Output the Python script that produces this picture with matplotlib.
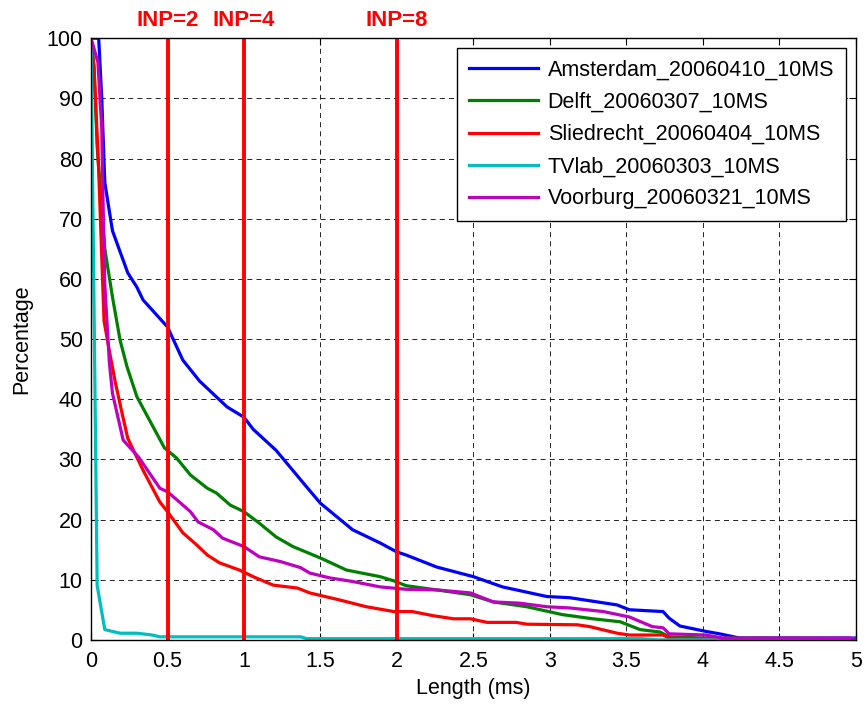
import matplotlib.pyplot as plt
import numpy as np

plt.rcParams['font.family'] = ['Liberation Sans', 'DejaVu Sans']

# curve data (x in ms, y in %)
ams_x = [0, 0.05, 0.07, 0.09, 0.14, 0.24, 0.3, 0.34, 0.5, 0.6, 0.71, 0.89, 1.0, 1.06, 1.21,
         1.41, 1.5, 1.71, 1.89, 2.0, 2.06, 2.26, 2.5, 2.69, 2.98, 3.13, 3.44, 3.52, 3.74, 3.78,
         3.85, 4.02, 4.11, 4.24, 5.0]
ams_y = [100, 100, 90, 76, 68, 61, 58.6, 56.5, 52, 46.5, 43, 38.7, 37, 35, 31.5,
         25.4, 22.7, 18.3, 16.1, 14.6, 14.1, 12.1, 10.5, 8.8, 7.2, 7.0, 5.8, 5.0, 4.7, 3.6,
         2.3, 1.4, 1.0, 0.3, 0.3]

delft_x = [0, 0.02, 0.04, 0.09, 0.14, 0.19, 0.235, 0.3, 0.48, 0.56, 0.65, 0.76, 0.82, 0.91,
           1.0, 1.1, 1.21, 1.32, 1.5, 1.67, 1.89, 1.98, 2.06, 2.26, 2.48, 2.63, 2.85, 3.08,
           3.28, 3.46, 3.59, 3.72, 3.78, 4.0, 5.0]
delft_y = [100, 95, 82, 65, 57, 49.8, 45.4, 40.4, 31.9, 30.2, 27.4, 25.2, 24.4, 22.4,
           21.3, 19.4, 17.1, 15.5, 13.6, 11.6, 10.5, 9.8, 9.0, 8.3, 7.5, 6.3, 5.5, 4.2,
           3.5, 3.0, 1.7, 1.3, 0.5, 0.3, 0.2]

slie_x = [0, 0.02, 0.05, 0.085, 0.12, 0.157, 0.2, 0.24, 0.34, 0.45, 0.5, 0.6, 0.69, 0.76,
          0.84, 0.97, 1.06, 1.19, 1.35, 1.43, 1.63, 1.8, 1.98, 2.1, 2.24, 2.37, 2.48, 2.59,
          2.78, 2.85, 3.18, 3.26, 3.44, 3.52, 3.74, 3.78, 4.0, 5.0]
slie_y = [100, 95, 78, 53, 48, 43, 38, 33.5, 28.2, 22.9, 21.3, 17.8, 15.8, 14.1,
          12.8, 11.6, 10.5, 9.1, 8.6, 7.8, 6.6, 5.5, 4.7, 4.7, 4.0, 3.5, 3.5, 2.9,
          2.9, 2.6, 2.5, 2.2, 1.1, 0.8, 0.8, 0.3, 0.2, 0.2]

tv_x = [0, 0.04, 0.09, 0.19, 0.3, 0.4, 0.45, 1.37, 1.41, 3.6, 3.7, 5.0]
tv_y = [100, 9, 1.7, 1.1, 1.1, 0.8, 0.5, 0.5, 0.2, 0.2, 0, 0]

voor_x = [0, 0.045, 0.07, 0.08, 0.09, 0.12, 0.14, 0.21, 0.31, 0.45, 0.5, 0.56, 0.65, 0.7,
          0.8, 0.86, 1.0, 1.1, 1.24, 1.37, 1.43, 1.56, 1.71, 1.89, 2.06, 2.26, 2.48, 2.63,
          2.8, 2.98, 3.13, 3.35, 3.52, 3.67, 3.74, 3.78, 4.02, 4.13, 4.96, 5.0]
voor_y = [100, 96, 85, 71, 59, 46, 41, 33.2, 30.4, 25.2, 24.6, 23.3, 21.3, 19.6,
          18.3, 16.9, 15.5, 13.8, 13.0, 12.0, 11.1, 10.3, 9.7, 8.8, 8.4, 8.3, 7.8, 6.3,
          6.1, 5.5, 5.3, 4.7, 3.8, 2.2, 2.0, 1.0, 0.8, 0.3, 0.3, 0]

series = [
    ('Amsterdam_20060410_10MS', ams_x, ams_y, (0, 0, 1)),
    ('Delft_20060307_10MS', delft_x, delft_y, (0, 0.5, 0)),
    ('Sliedrecht_20060404_10MS', slie_x, slie_y, (1, 0, 0)),
    ('TVlab_20060303_10MS', tv_x, tv_y, (0, 0.75, 0.75)),
    ('Voorburg_20060321_10MS', voor_x, voor_y, (0.75, 0, 0.75)),
]

inp_x = [0.5, 1, 2]
inp_labels = ['INP=2', 'INP=4', 'INP=8']

fig = plt.figure(figsize=(8.67, 7.07), dpi=100)
ax = fig.add_axes([0.105, 0.095, 0.882, 0.851])

for name, x, y, c in series:
    ax.plot(x, y, color=c, lw=2.3, label=name)

for xv, lab in zip(inp_x, inp_labels):
    ax.plot([xv, xv], [0, 100], color='red', lw=2.8)
    ax.text(xv, 1.012, lab, transform=ax.get_xaxis_transform(), color='red',
            fontsize=16, fontweight='bold', ha='center', va='bottom')

ax.set_xlim(0, 5)
ax.set_ylim(0, 100)
ax.set_xticks(np.arange(0, 5.01, 0.5))
ax.set_xticklabels(['0', '0.5', '1', '1.5', '2', '2.5', '3', '3.5', '4', '4.5', '5'])
ax.set_yticks(np.arange(0, 101, 10))
ax.grid(True, color='black', linestyle=(0, (6, 5)), lw=0.6)
ax.tick_params(direction='in', top=True, right=True, labelsize=15.5, length=5)
ax.tick_params(axis='x', pad=8)
ax.tick_params(axis='y', pad=6)
for sp in ax.spines.values():
    sp.set_linewidth(1.0)

ax.set_xlabel('Length (ms)', fontsize=15.5, labelpad=4)
ax.set_ylabel('Percentage', fontsize=15.5, labelpad=10)

leg = ax.legend(loc='upper right', fontsize=15.5, fancybox=False, framealpha=1,
                edgecolor='black', handlelength=3.2, handletextpad=0.45,
                borderaxespad=0.45, borderpad=0.55, labelspacing=0.52)
leg.get_frame().set_linewidth(1.0)

fig.savefig('out.png', dpi=100)
